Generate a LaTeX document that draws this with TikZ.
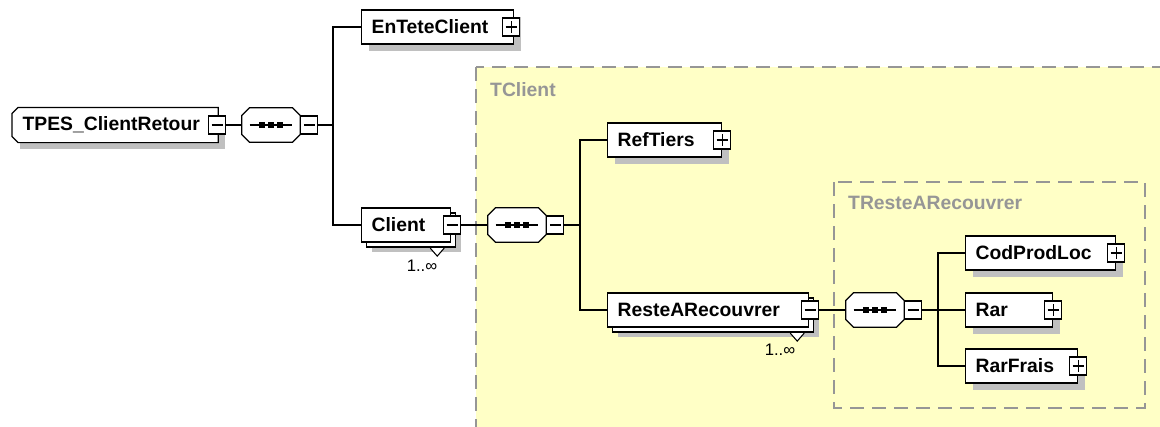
\documentclass[tikz,border=0pt]{standalone}
\usepackage{fontspec}
\setmainfont{Liberation Sans}
\usetikzlibrary{shadows}

\def\pxu{0.2mm}
\definecolor{areafill}{RGB}{255,255,198}
\definecolor{arealine}{RGB}{150,150,150}
\definecolor{shade}{RGB}{192,192,192}

\tikzset{
  elem/.style={draw, line width=0.7pt, fill=white, anchor=west, align=left,
    minimum height=34*\pxu, inner xsep=10*\pxu, inner ysep=0pt,
    font=\bfseries\fontsize{11}{13}\selectfont},
  shad/.style={drop shadow={shadow xshift=1.4mm, shadow yshift=-1.4mm, fill=shade, opacity=1}},
  multi/.style={drop shadow={shadow xshift=2mm, shadow yshift=-2mm, fill=shade, opacity=1},
    copy shadow={shadow xshift=1mm, shadow yshift=-1mm, draw=black, fill=white, line width=0.7pt}},
  seqbox/.style={minimum width=58*\pxu, minimum height=34*\pxu, inner sep=0pt},
  togbox/.style={draw, line width=0.6pt, fill=white, minimum width=17*\pxu, minimum height=18*\pxu, inner sep=0pt},
  minus/.style={togbox, path picture={\draw[line width=0.7pt] ([xshift=3*\pxu]path picture bounding box.west) -- ([xshift=-3*\pxu]path picture bounding box.east);}},
  plus/.style={togbox, path picture={\draw[line width=0.7pt] ([xshift=3*\pxu]path picture bounding box.west) -- ([xshift=-3*\pxu]path picture bounding box.east)
    ([yshift=-3*\pxu]path picture bounding box.north) -- ([yshift=3*\pxu]path picture bounding box.south);}},
  link/.style={line width=0.7pt},
  typearea/.style={draw=arealine, fill=areafill, line width=0.85pt, dash pattern=on 2.8mm off 1.6mm},
  typelabel/.style={anchor=west, text=arealine, font=\bfseries\fontsize{11}{13}\selectfont},
  mult/.style={font=\fontsize{9.5}{11}\selectfont},
  multtri/.style={draw, line width=0.6pt, fill=white}
}

\begin{document}
\begin{tikzpicture}[x=0.2mm,y=-0.2mm]
\clip (0,0) rectangle (1160,426);

% complex types
\draw[typearea] (476,67) rectangle (1180,445);
\node[typelabel] (tclient) at (484,90) {TClient};
\draw[typearea] (834,182) rectangle (1145,408);
\node[typelabel] (treste) at (842,203) {TResteARecouvrer};

% root element, left corners cut
\node[elem,draw=none,shad,text width=185*\pxu] (root) at (12,125) {TPES\_ClientRetour};
\draw[link] ([xshift=6*\pxu]root.north west) -- (root.north east) -- (root.south east)
  -- ([xshift=6*\pxu]root.south west) -- ([yshift=6*\pxu]root.south west)
  -- ([yshift=-6*\pxu]root.north west) -- cycle;
\node[minus] (rootm) at ([xshift=-1*\pxu]root.east) {};

% sequences
\node[seqbox] (seq1) at (271,125) {};
\node[seqbox] (seq2) at (517,225) {};
\node[seqbox] (seq3) at (875,310) {};
\foreach \s in {seq1,seq2,seq3}{
  \fill[shade,shift={(7*\pxu,-7*\pxu)}] ([xshift=8*\pxu]\s.north west) -- ([xshift=-8*\pxu]\s.north east)
    -- ([yshift=-8*\pxu]\s.north east) -- ([yshift=8*\pxu]\s.south east) -- ([xshift=-8*\pxu]\s.south east)
    -- ([xshift=8*\pxu]\s.south west) -- ([yshift=8*\pxu]\s.south west) -- ([yshift=-8*\pxu]\s.north west) -- cycle;
  \filldraw[link,fill=white] ([xshift=8*\pxu]\s.north west) -- ([xshift=-8*\pxu]\s.north east)
    -- ([yshift=-8*\pxu]\s.north east) -- ([yshift=8*\pxu]\s.south east) -- ([xshift=-8*\pxu]\s.south east)
    -- ([xshift=8*\pxu]\s.south west) -- ([yshift=8*\pxu]\s.south west) -- ([yshift=-8*\pxu]\s.north west) -- cycle;
  \draw[link] ([xshift=8*\pxu]\s.west) -- ([xshift=-8*\pxu]\s.east);
  \foreach \d in {-9,0,9}
    \fill ([xshift=\d*\pxu]\s.center) +(-2.8*\pxu,-2.8*\pxu) rectangle +(2.8*\pxu,2.8*\pxu);
}
\node[minus,anchor=west] (seq1m) at (seq1.east) {};
\node[minus,anchor=west] (seq2m) at (seq2.east) {};
\node[minus,anchor=west] (seq3m) at (seq3.east) {};

\coordinate (j1) at (333,125);
\coordinate (j2) at (580,225);
\coordinate (j3) at (938,310);

% children of the root
\node[elem,shad,text width=132*\pxu] (entete) at (361,27) {EnTeteClient};
\node[plus] (entetep) at ([xshift=-3*\pxu]entete.east) {};

\node[elem,multi,text width=69*\pxu] (client) at (361,225) {Client};
\node[minus] (clientm) at ([xshift=1*\pxu]client.east) {};
\draw[multtri] ([shift={(-21*\pxu,-5.5*\pxu)}]client.south east) -- ++(7*\pxu,-8*\pxu) -- ++(7*\pxu,8*\pxu);
\node[mult] (clientn) at (422,266) {1..∞};

% TClient content
\node[elem,shad,text width=94*\pxu] (reftiers) at (607,140) {RefTiers};
\node[plus] (reftiersp) at (reftiers.east) {};

\node[elem,multi,text width=181*\pxu] (reste) at (607,310) {ResteARecouvrer};
\node[minus] (restem) at ([xshift=1*\pxu]reste.east) {};
\draw[multtri] ([shift={(-19*\pxu,-5.5*\pxu)}]reste.south east) -- ++(7*\pxu,-8*\pxu) -- ++(7*\pxu,8*\pxu);
\node[mult] (resten) at (780,350) {1..∞};

% TResteARecouvrer content
\node[elem,shad,text width=130*\pxu] (codprod) at (965,253) {CodProdLoc};
\node[plus] (codprodp) at (codprod.east) {};
\node[elem,shad,text width=67*\pxu] (rar) at (965,310) {Rar};
\node[plus] (rarp) at (rar.east) {};
\node[elem,shad,text width=92*\pxu] (rarfrais) at (965,366) {RarFrais};
\node[plus] (rarfraisp) at (rarfrais.east) {};

% links
\draw[link] (rootm.east) -- (seq1.west);
\draw[link] (seq1m.east) -- (j1) |- (entete.west);
\draw[link] (j1) |- (client.west);

\draw[link] (clientm.east) -- (seq2.west);
\draw[link] (seq2m.east) -- (j2) |- (reftiers.west);
\draw[link] (j2) |- (reste.west);

\draw[link] (restem.east) -- (seq3.west);
\draw[link] (seq3m.east) -- (j3) |- (codprod.west);
\draw[link] (j3) -- (rar.west);
\draw[link] (j3) |- (rarfrais.west);

\end{tikzpicture}
\end{document}
